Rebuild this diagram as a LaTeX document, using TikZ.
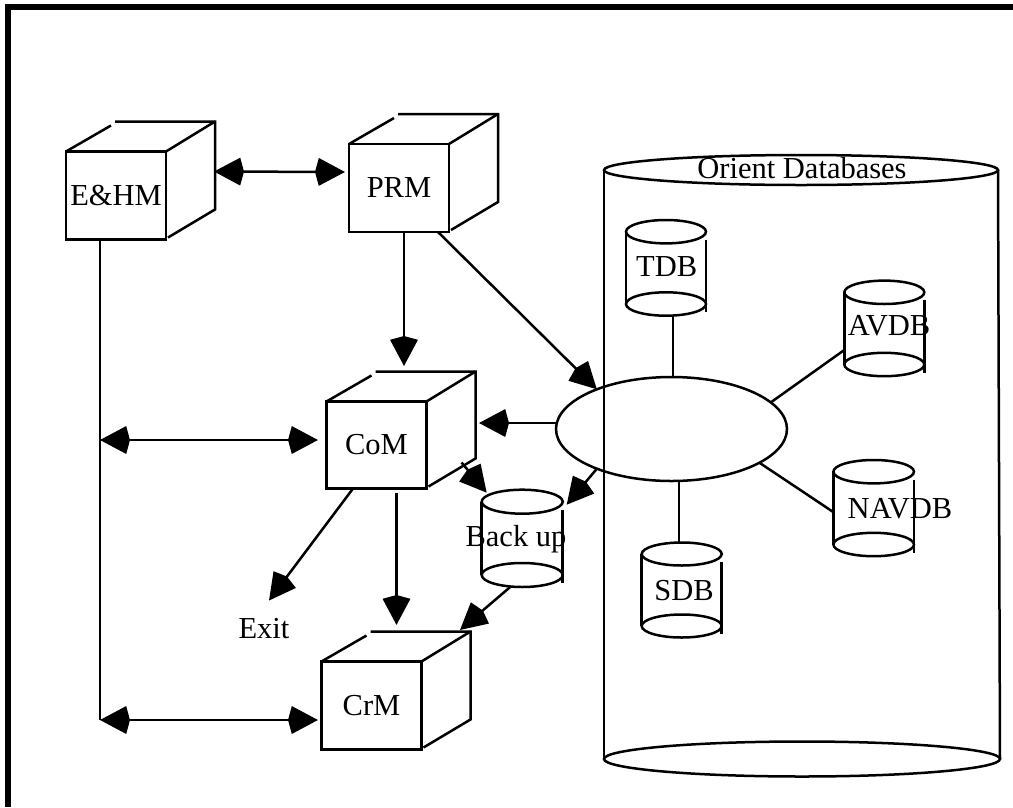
\documentclass[tikz,border=0pt]{standalone}
\usepackage{fontspec}
\setmainfont{Liberation Serif}
\usetikzlibrary{arrows.meta,shapes.geometric,calc}

\tikzset{
  >={Stealth[length=26pt,width=27pt,inset=-4pt]},
  face/.style={draw,minimum width=100pt,minimum height=88pt,inner sep=0pt,outer sep=0pt},
  lbl/.style={inner sep=0pt,anchor=base},
  dbbox/.style={inner sep=0pt,outer sep=0pt},
}

% back edges of a cube standing behind the front face #1
\newcommand{\cubeback}[1]{%
  \draw (#1.north west) -- ++(45,-26);
  \draw ($(#1.north west)+(49,-30)$) -- ($(#1.north east)+(49,-30)$)
        -- ($(#1.south east)+(49,-30)$) -- ($(#1.south east)+(2,-2)$);
  \draw (#1.north east) -- ++(49,-30);
}

% small database: name, cx, top y, bottom y, rx, ry
\newcommand{\dbcyl}[6]{%
  \draw (#2,#3) ellipse (#5 and #6);
  \draw (#2,#4) ellipse (#5 and #6);
  \draw (#2-#5,#3) -- (#2-#5,#4);
  \draw (#2+#5,#3+8) -- (#2+#5,#4+8);
  \node[dbbox,minimum width={2*#5},minimum height={#4-#3+2*#6}] (#1) at (#2,{(#3+#4)/2}) {};
}

\begin{document}
\begin{tikzpicture}[x=1pt,y=-1pt,line width=2.5pt,font=\fontsize{30.5}{36}\selectfont]
  \useasboundingbox (0,0) rectangle (1013,807);
  \draw[line width=6pt] (8,807) -- (8,7.2) -- (1013,7.2);

  % modules
  \node[face] (ehm) at (116,195.5) {E\&HM};
  \cubeback{ehm}
  \node[face] (prm) at (399,188) {PRM};
  \cubeback{prm}
  \node[face,minimum height=87pt] (com) at (376.5,445) {CoM};
  \cubeback{com}
  \node[face] (crm) at (371.5,705.5) {CrM};
  \cubeback{crm}
  \node[lbl] (exit) at (264,638) {Exit};

  % orient databases
  \draw (801,170) ellipse (197 and 15);
  \draw (604,170) -- (604,759);
  \draw (998,170) -- (1000,759);
  \draw (802,759) ellipse (198 and 17.5);
  \node[lbl] (odb) at (802,178.3) {Orient Databases};

  \node[draw,ellipse,minimum width=231pt,minimum height=104pt,inner sep=0pt,outer sep=0pt] (hub) at (671.5,429) {};

  \dbcyl{tdb}{666}{231.7}{304}{40}{11.7}
  \dbcyl{avdb}{884.3}{292.3}{364.5}{40}{11.7}
  \dbcyl{navdb}{873.7}{471.7}{544.5}{40.3}{11.7}
  \dbcyl{sdb}{681.7}{554}{626}{40}{11.5}
  \dbcyl{bkup}{522.2}{501.7}{575}{40.5}{12}
  \node[lbl] (tdb-t) at (666.7,276.7) {TDB};
  \node[lbl] (avdb-t) at (889,335) {AVDB};
  \node[lbl] (navdb-t) at (900,518.3) {NAVDB};
  \node[lbl] (sdb-t) at (684,600) {SDB};
  \node[lbl] (bkup-t) at (516,546.7) {Back up};

  % links
  \draw[<->] ([shift={(48pt,24pt)}]ehm.east) -- ([shift={(-4pt,16pt)}]prm.west);
  \draw[->] ([xshift=5pt]prm.south) -- ([shift={(27.5pt,35.5pt)}]com.north);
  \draw[->] ([xshift=-11pt]prm.south east) -- (hub.152);
  \draw[->] ([yshift=6pt]hub.west) -- ([shift={(52.5pt,22pt)}]com.east);

  \coordinate (bus) at (100,720);
  \draw ([xshift=-16pt]ehm.south) -- (bus);
  \draw[<->] ([yshift=5pt]com.west -| bus) -- ([shift={(-8.5pt,5pt)}]com.west);
  \draw[<->] (bus) -- ([xshift=-3.5pt]crm.west |- bus);

  \draw[->] ([xshift=-23.5pt]com.south) -- ([shift={(5pt,16pt)}]exit.north);
  \draw[->] ([shift={(20pt,-4pt)}]com.south) -- ([shift={(25pt,36.5pt)}]crm.north);
  \draw[->] ([shift={(35pt,26pt)}]com.south east) -- ([shift={(5pt,-3pt)}]bkup.north west);
  \draw[->] (hub.208) -- ([shift={(4pt,-15pt)}]bkup.north east);
  \draw[->] ([xshift=-12pt]bkup.south) -- ([shift={(38.5pt,31.5pt)}]crm.north east);

  \draw ([xshift=7pt]tdb.south) -- ([xshift=7pt]tdb.south |- hub.north);
  \draw (hub.15) -- ([yshift=-21.6pt]avdb.west);
  \draw (hub.-21) -- ([yshift=-4pt]navdb.west);
  \draw ([xshift=7.5pt]hub.south) -- ([xshift=-2.7pt]sdb.north);
\end{tikzpicture}
\end{document}
